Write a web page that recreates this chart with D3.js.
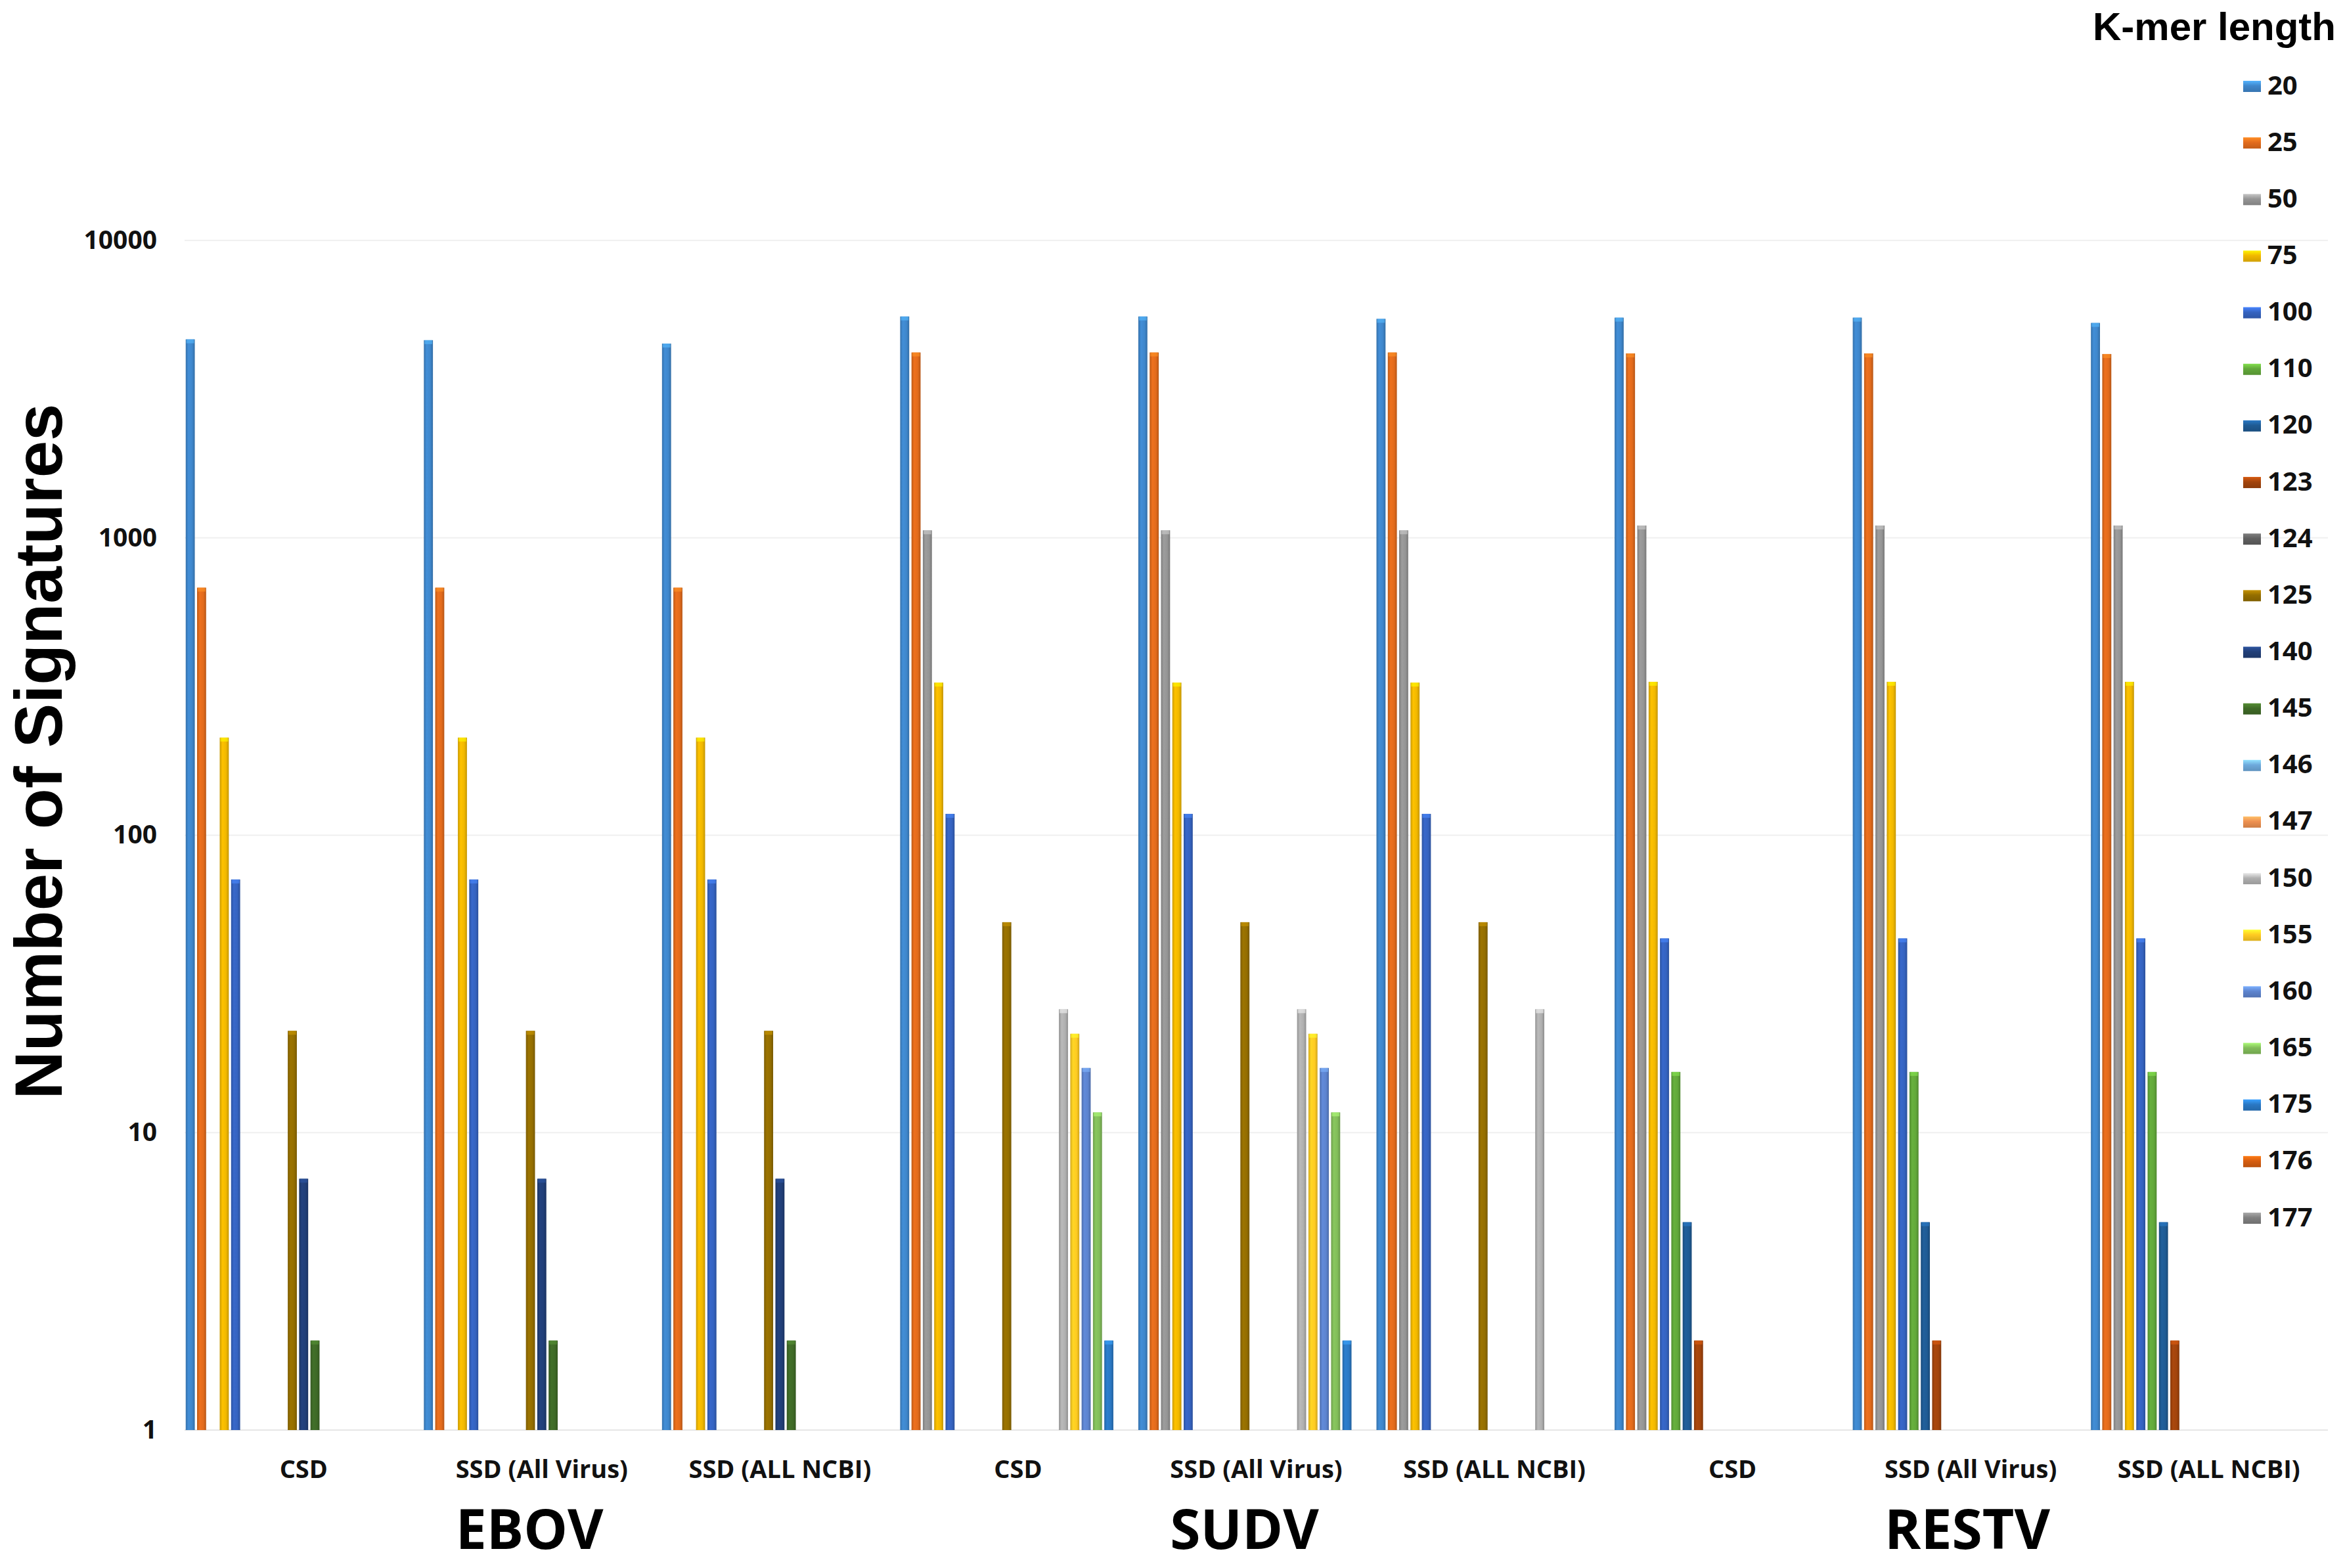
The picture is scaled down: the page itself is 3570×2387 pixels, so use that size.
<!DOCTYPE html>
<html>
<head>
<meta charset="utf-8">
<script src="https://cdn.jsdelivr.net/npm/d3@7"></script>
<style>
  html, body { margin: 0; padding: 0; background: #fff; }
  svg { display: block; }
</style>
</head>
<body>
<div id="app"></div>
<script>
// k-mer lengths (one series each) and their colours
const kmerLengths = ["20", "25", "50", "75", "100", "110", "120", "123", "124", "125",
  "140", "145", "146", "147", "150", "155", "160", "165", "175", "176", "177"];
const kmerColors = ["#3f87cc", "#e26b1c", "#959595", "#f1b800", "#3563c0", "#62a83a",
  "#1f5b94", "#a2440c", "#606060", "#946e00", "#213f78", "#3f6a27", "#6eaadc",
  "#ee9050", "#b0b0b0", "#ffcb22", "#5d84cf", "#82bd5a", "#2a78c4", "#d65d10", "#808080"];

const categories = ["CSD", "SSD (All Virus)", "SSD (ALL NCBI)",
  "CSD", "SSD (All Virus)", "SSD (ALL NCBI)",
  "CSD", "SSD (All Virus)", "SSD (ALL NCBI)"];
const viruses = ["EBOV", "SUDV", "RESTV"];
const yTicks = [1, 10, 100, 1000, 10000];

// number of signatures per k-mer length (same order as kmerLengths), null = no bar
const ebovCsd      = [4650, 680, null, 213, 71, null, null, null, null, 22, 7, 2, null, null, null, null, null, null, null, null, null];
const ebovSsdVirus = [4620, 680, null, 213, 71, null, null, null, null, 22, 7, 2, null, null, null, null, null, null, null, null, null];
const ebovSsdNcbi  = [4500, 680, null, 213, 71, null, null, null, null, 22, 7, 2, null, null, null, null, null, null, null, null, null];
const sudvCsd      = [5550, 4200, 1060, 326, 118, null, null, null, null, 51, null, null, null, null, 26, 21.5, 16.5, 11.7, 2, null, null];
const sudvSsdVirus = [5550, 4200, 1060, 326, 118, null, null, null, null, 51, null, null, null, null, 26, 21.5, 16.5, 11.7, 2, null, null];
const sudvSsdNcbi  = [5450, 4200, 1060, 326, 118, null, null, null, null, 51, null, null, null, null, 26, null, null, null, null, null, null];
const restvCsd      = [5500, 4170, 1100, 328, 45, 16, 5, 2, null, null, null, null, null, null, null, null, null, null, null, null, null];
const restvSsdVirus = [5500, 4170, 1100, 328, 45, 16, 5, 2, null, null, null, null, null, null, null, null, null, null, null, null, null];
const restvSsdNcbi  = [5280, 4150, 1100, 328, 45, 16, 5, 2, null, null, null, null, null, null, null, null, null, null, null, null, null];

const categoryValues = [ebovCsd, ebovSsdVirus, ebovSsdNcbi,
  sudvCsd, sudvSsdVirus, sudvSsdNcbi,
  restvCsd, restvSsdVirus, restvSsdNcbi];

const width = 3570, height = 2387;
const plot = { left: 281, right: 3544, top: 366, bottom: 2177 };
const textFont = "'Open Sans', 'DejaVu Sans', sans-serif";

const svg = d3.select("#app")
  .append("svg")
  .attr("width", width)
  .attr("height", height)
  .style("background", "#fff");

const x0 = d3.scaleBand()
  .domain(d3.range(categories.length))
  .range([plot.left, plot.right])
  .padding(0);

const x1 = d3.scaleBand()
  .domain(kmerLengths)
  .range([0, x0.bandwidth()])
  .paddingInner(0.2)
  .paddingOuter(0.1);

const y = d3.scaleLog()
  .domain([1, 10000])
  .range([plot.bottom, plot.top]);

// bevelled look: darker edges, lighter middle
const defs = svg.append("defs");
kmerColors.forEach((c, i) => {
  const grad = defs.append("linearGradient")
    .attr("id", "bar" + i)
    .attr("x1", "0%").attr("x2", "100%").attr("y1", "0%").attr("y2", "0%");
  const base = d3.color(c);
  grad.append("stop").attr("offset", "0%").attr("stop-color", base.darker(0.5));
  grad.append("stop").attr("offset", "30%").attr("stop-color", base.brighter(0.15));
  grad.append("stop").attr("offset", "70%").attr("stop-color", base);
  grad.append("stop").attr("offset", "100%").attr("stop-color", base.darker(0.6));

  const key = defs.append("linearGradient")
    .attr("id", "key" + i)
    .attr("x1", "0%").attr("x2", "0%").attr("y1", "0%").attr("y2", "100%");
  key.append("stop").attr("offset", "0%").attr("stop-color", base.brighter(0.8));
  key.append("stop").attr("offset", "45%").attr("stop-color", base);
  key.append("stop").attr("offset", "100%").attr("stop-color", base.darker(0.4));
});

// faint gridlines
svg.append("g")
  .selectAll("line")
  .data(yTicks)
  .join("line")
  .attr("x1", plot.left)
  .attr("x2", plot.right)
  .attr("y1", d => y(d))
  .attr("y2", d => y(d))
  .attr("stroke", d => d === 1 ? "#e6e6e6" : "#f0f0f0")
  .attr("stroke-width", 2);

// y axis labels
const yAxis = svg.append("g")
  .attr("transform", `translate(${plot.left},0)`)
  .call(d3.axisLeft(y).tickValues(yTicks).tickFormat(d3.format("d")).tickSize(0).tickPadding(42));
yAxis.select(".domain").remove();
yAxis.selectAll("text")
  .style("font-family", textFont)
  .style("font-weight", 700)
  .style("font-size", "39px")
  .attr("fill", "#111");

svg.append("text")
  .attr("transform", `translate(94,1144) rotate(-90)`)
  .attr("text-anchor", "middle")
  .attr("textLength", 1059)
  .attr("lengthAdjust", "spacingAndGlyphs")
  .style("font-family", "'Liberation Sans', Arial, sans-serif")
  .style("font-weight", 700)
  .style("font-size", "102px")
  .attr("fill", "#000")
  .text("Number of Signatures");

// bars
const groups = svg.append("g")
  .selectAll("g")
  .data(categoryValues)
  .join("g")
  .attr("transform", (d, i) => `translate(${x0(i)},0)`);

const bars = groups.selectAll("g")
  .data(vals => vals.map((v, j) => ({ k: kmerLengths[j], j, v })).filter(d => d.v != null))
  .join("g");

bars.append("rect")
  .attr("x", d => x1(d.k))
  .attr("width", x1.bandwidth())
  .attr("y", d => y(d.v))
  .attr("height", d => y(1) - y(d.v))
  .attr("fill", d => `url(#bar${d.j})`);

bars.append("rect")
  .attr("x", d => x1(d.k) + 1)
  .attr("width", x1.bandwidth() - 2)
  .attr("y", d => y(d.v))
  .attr("height", 6)
  .attr("fill", d => d3.color(kmerColors[d.j]).brighter(0.9))
  .attr("opacity", 0.6);

// category labels
const catLabels = svg.append("g")
  .selectAll("text")
  .data(categories)
  .join("text")
  .attr("x", (d, i) => x0(i) + x0.bandwidth() / 2)
  .attr("y", 2250)
  .attr("text-anchor", "middle")
  .style("font-family", textFont)
  .style("font-weight", 700)
  .style("font-size", "38px")
  .attr("fill", "#111")
  .text(d => d);

// virus labels start where the middle category label starts
svg.append("g")
  .selectAll("text")
  .data(viruses)
  .join("text")
  .attr("x", (d, i) => {
    const node = catLabels.nodes()[i * 3 + 1];
    return node.getBBox().x;
  })
  .attr("y", 2358)
  .style("font-family", textFont)
  .style("font-weight", 700)
  .style("font-size", "84px")
  .attr("fill", "#000")
  .text(d => d);

// legend
const legend = svg.append("g");
legend.append("text")
  .attr("x", 3556)
  .attr("y", 61)
  .attr("text-anchor", "end")
  .style("font-family", "'Liberation Sans', Arial, sans-serif")
  .style("font-weight", 700)
  .style("font-size", "60px")
  .attr("fill", "#000")
  .text("K-mer length");

const item = legend.selectAll("g")
  .data(kmerLengths)
  .join("g")
  .attr("transform", (d, i) => `translate(0,${128 + i * 86.15})`);

item.append("rect")
  .attr("x", 3415)
  .attr("y", -5)
  .attr("width", 27)
  .attr("height", 17)
  .attr("fill", (d, i) => `url(#key${i})`);

item.append("text")
  .attr("x", 3452)
  .attr("y", 0)
  .attr("dominant-baseline", "central")
  .style("font-family", textFont)
  .style("font-weight", 700)
  .style("font-size", "40px")
  .attr("fill", "#111")
  .text(d => d);
</script>
</body>
</html>
